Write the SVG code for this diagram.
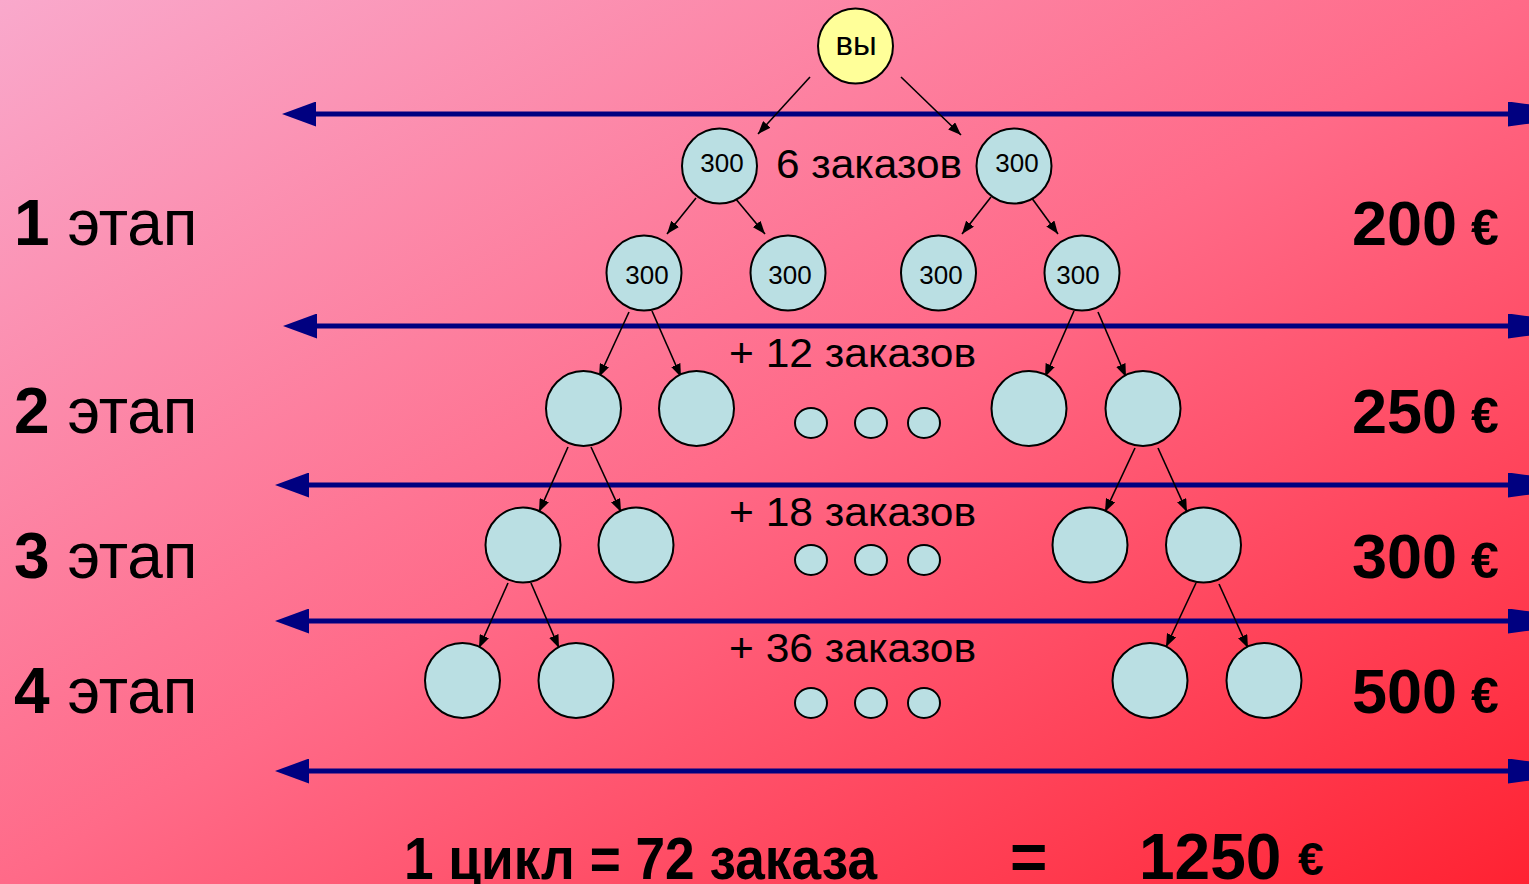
<svg xmlns="http://www.w3.org/2000/svg" width="1529" height="884" viewBox="0 0 1529 884">
<defs>
<linearGradient id="bg" x1="0" y1="0" x2="1" y2="1">
<stop offset="0" stop-color="#F9A9CC"/>
<stop offset="0.5" stop-color="#FF6A88"/>
<stop offset="1" stop-color="#FF2232"/>
</linearGradient>
<marker id="navL" markerUnits="userSpaceOnUse" viewBox="0 0 34 25" markerWidth="34" markerHeight="25" refX="34" refY="12.5" orient="auto">
<path d="M34,0 L0,12.5 L34,25 Z" fill="#000080"/>
</marker>
<marker id="navR" markerUnits="userSpaceOnUse" viewBox="0 0 92 25" markerWidth="92" markerHeight="25" refX="0" refY="12.5" orient="auto">
<path d="M0,0 L92,12.5 L0,25 Z" fill="#000080"/>
</marker>
<marker id="ah" markerUnits="userSpaceOnUse" viewBox="0 0 13 10" markerWidth="13" markerHeight="10" refX="13" refY="5" orient="auto">
<path d="M0,0 L13,5 L0,10 Z" fill="#000"/>
</marker>
<style>
.lvl{stroke:#000080;stroke-width:5;fill:none;marker-start:url(#navL);marker-end:url(#navR)}
.arr{stroke:#000;stroke-width:1.6;fill:none;marker-end:url(#ah)}
.nd{fill:#BADFE3;stroke:#000;stroke-width:2}
.you{fill:#FFFF99;stroke:#000;stroke-width:2}
.t{font-family:"Liberation Sans",Arial,sans-serif;fill:#000}
.lbl{font-size:26px;text-anchor:middle}
.mid{font-size:40px}
.big{font-size:64px}
.b{font-weight:bold}
</style>
</defs>
<rect width="1529" height="884" fill="url(#bg)"/>

<g id="connectors">
<line class="lvl" x1="316" y1="114" x2="1508" y2="114"/>
<line class="lvl" x1="317" y1="326" x2="1508" y2="326"/>
<line class="lvl" x1="309" y1="485" x2="1508" y2="485"/>
<line class="lvl" x1="309" y1="621" x2="1508" y2="621"/>
<line class="lvl" x1="309" y1="771" x2="1508" y2="771"/>

<line class="arr" x1="810" y1="77" x2="758" y2="134"/>
<line class="arr" x1="901" y1="77" x2="961" y2="135"/>
<line class="arr" x1="696" y1="198" x2="667" y2="234"/>
<line class="arr" x1="735" y1="198" x2="765" y2="234"/>
<line class="arr" x1="991" y1="197" x2="962" y2="234"/>
<line class="arr" x1="1031" y1="197" x2="1058" y2="234"/>

<line class="arr" x1="629" y1="312" x2="599" y2="377"/>
<line class="arr" x1="652" y1="311" x2="681" y2="377"/>
<line class="arr" x1="1074" y1="311" x2="1045" y2="377"/>
<line class="arr" x1="1098" y1="312" x2="1126" y2="377"/>

<line class="arr" x1="568" y1="447" x2="539" y2="512"/>
<line class="arr" x1="591" y1="447" x2="621" y2="512"/>
<line class="arr" x1="1135" y1="448" x2="1105" y2="512"/>
<line class="arr" x1="1158" y1="448" x2="1187" y2="512"/>

<line class="arr" x1="508" y1="583" x2="479" y2="648"/>
<line class="arr" x1="531" y1="583" x2="559" y2="648"/>
<line class="arr" x1="1196" y1="583" x2="1166" y2="647"/>
<line class="arr" x1="1219" y1="584" x2="1248" y2="648"/>
</g>

<g id="n-you"><circle class="you" cx="855.5" cy="46" r="37.5"/><text class="t" x="856" y="55" font-size="33" text-anchor="middle">вы</text></g>

<g id="n1a"><circle class="nd" cx="719.5" cy="166" r="37.5"/><text class="t lbl" x="722" y="172">300</text></g>
<g id="n1b"><circle class="nd" cx="1014" cy="166" r="37.5"/><text class="t lbl" x="1017" y="172">300</text></g>

<g id="n2a"><circle class="nd" cx="644" cy="273" r="37.5"/><text class="t lbl" x="647" y="284">300</text></g>
<g id="n2b"><circle class="nd" cx="788" cy="273" r="37.5"/><text class="t lbl" x="790" y="284">300</text></g>
<g id="n2c"><circle class="nd" cx="938.5" cy="273" r="37.5"/><text class="t lbl" x="941" y="284">300</text></g>
<g id="n2d"><circle class="nd" cx="1082" cy="273" r="37.5"/><text class="t lbl" x="1078" y="284">300</text></g>

<g id="n3a"><circle class="nd" cx="583.5" cy="408.5" r="37.5"/></g>
<g id="n3b"><circle class="nd" cx="696.5" cy="408.5" r="37.5"/></g>
<g id="n3c"><circle class="nd" cx="1029" cy="408.5" r="37.5"/></g>
<g id="n3d"><circle class="nd" cx="1143" cy="408.5" r="37.5"/></g>

<g id="n4a"><circle class="nd" cx="523" cy="545" r="37.5"/></g>
<g id="n4b"><circle class="nd" cx="636" cy="545" r="37.5"/></g>
<g id="n4c"><circle class="nd" cx="1090" cy="545" r="37.5"/></g>
<g id="n4d"><circle class="nd" cx="1203.5" cy="545" r="37.5"/></g>

<g id="n5a"><circle class="nd" cx="462.5" cy="680.5" r="37.5"/></g>
<g id="n5b"><circle class="nd" cx="576" cy="680.5" r="37.5"/></g>
<g id="n5c"><circle class="nd" cx="1150" cy="680.5" r="37.5"/></g>
<g id="n5d"><circle class="nd" cx="1264" cy="680.5" r="37.5"/></g>

<g id="dots1"><ellipse class="nd" cx="811" cy="423" rx="16" ry="15"/><ellipse class="nd" cx="871" cy="423" rx="16" ry="15"/><ellipse class="nd" cx="924" cy="423" rx="16" ry="15"/></g>
<g id="dots2"><ellipse class="nd" cx="811" cy="560" rx="16" ry="15"/><ellipse class="nd" cx="871" cy="560" rx="16" ry="15"/><ellipse class="nd" cx="924" cy="560" rx="16" ry="15"/></g>
<g id="dots3"><ellipse class="nd" cx="811" cy="703" rx="16" ry="15"/><ellipse class="nd" cx="871" cy="703" rx="16" ry="15"/><ellipse class="nd" cx="924" cy="703" rx="16" ry="15"/></g>

<g id="orders">
<text class="t mid" x="776" y="178" textLength="186" lengthAdjust="spacingAndGlyphs">6 заказов</text>
<text class="t mid" x="729" y="367" textLength="247" lengthAdjust="spacingAndGlyphs">+ 12 заказов</text>
<text class="t mid" x="729" y="526" textLength="247" lengthAdjust="spacingAndGlyphs">+ 18 заказов</text>
<text class="t mid" x="729" y="662" textLength="247" lengthAdjust="spacingAndGlyphs">+ 36 заказов</text>
</g>

<g id="stages">
<text class="t big" x="14" y="245"><tspan class="b">1</tspan> этап</text>
<text class="t big" x="14" y="433"><tspan class="b">2</tspan> этап</text>
<text class="t big" x="14" y="578"><tspan class="b">3</tspan> этап</text>
<text class="t big" x="14" y="713"><tspan class="b">4</tspan> этап</text>
</g>

<g id="prices">
<text class="t b" x="1352" y="245" font-size="63">200<tspan font-size="50"> €</tspan></text>
<text class="t b" x="1352" y="433" font-size="63">250<tspan font-size="50"> €</tspan></text>
<text class="t b" x="1352" y="578" font-size="63">300<tspan font-size="50"> €</tspan></text>
<text class="t b" x="1352" y="713" font-size="63">500<tspan font-size="50"> €</tspan></text>
</g>

<g id="total">
<text class="t b" x="404" y="879" font-size="60" textLength="473" lengthAdjust="spacingAndGlyphs">1 цикл = 72 заказа</text>
<text class="t b" x="1010" y="879" font-size="64">=</text>
<text class="t b" x="1139" y="879" font-size="64">1250</text>
<text class="t b" x="1298" y="875" font-size="46">€</text>
</g>
</svg>
